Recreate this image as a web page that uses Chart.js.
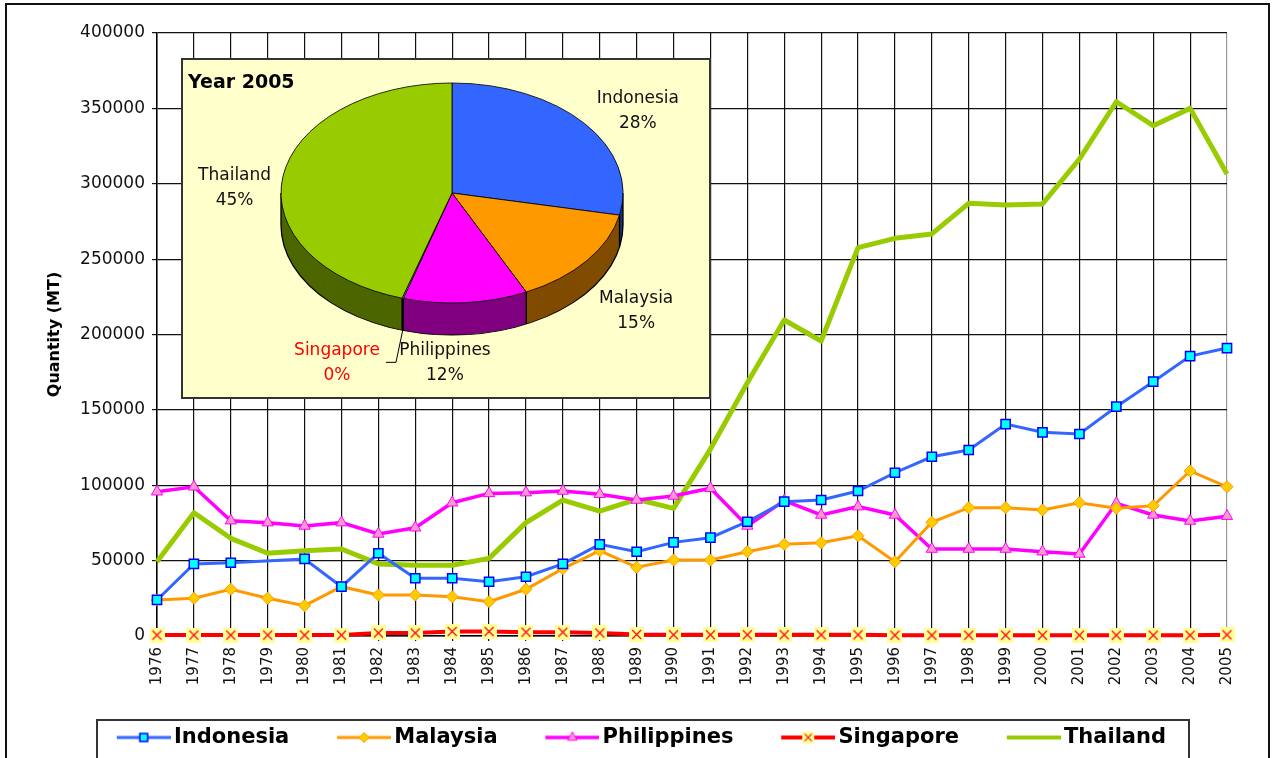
<!DOCTYPE html>
<html>
<head>
<meta charset="utf-8">
<script src="https://cdn.jsdelivr.net/npm/chart.js@4.4.1/dist/chart.umd.min.js"></script>
<style>
  html, body { margin: 0; padding: 0; background: #fff; }
  #wrap { position: relative; width: 1274px; height: 758px; overflow: hidden; }
  #frame { position: absolute; left: 5px; top: 3px; width: 1261px; height: 800px; border: 2px solid #111; }
  #legend-box { position: absolute; left: 96px; top: 719px; width: 1090px; height: 60px; border: 2px solid #333; }
  #main { position: absolute; left: 0; top: 0; }
  #pie-box { position: absolute; left: 181px; top: 58px; width: 526px; height: 337px; border: 2px solid #333; background: #FFFFCC; }
  #pie { position: absolute; left: 0; top: 0; }
</style>
</head>
<body>
<div id="wrap">
  <div id="frame"></div>
  <div id="legend-box"></div>
  <canvas id="main" width="1274" height="758"></canvas>
  <div id="pie-box"><canvas id="pie" width="526" height="337"></canvas></div>
</div>
<script>
const years = [1976, 1977, 1978, 1979, 1980, 1981, 1982, 1983, 1984, 1985,
  1986, 1987, 1988, 1989, 1990, 1991, 1992, 1993, 1994, 1995,
  1996, 1997, 1998, 1999, 2000, 2001, 2002, 2003, 2004, 2005];

const countries = ['Indonesia', 'Malaysia', 'Philippines', 'Singapore', 'Thailand'];

const indonesia = [23900, 47800, 48600, null, 51100, 32700, 54900, 38300, 38300, 36000,
  39300, 47800, 60800, 55900, 62100, 65200, 75800, 89100, 90200, 96200,
  108300, 118900, 123400, 140600, 135100, 134000, 152100, 168700, 185700, 191000];

const malaysia = [23900, 25000, 31000, 25000, 20100, 32700, 27200, 27200, 26100, 22800,
  31000, 44700, 56600, 45600, 50400, 50400, 55900, 60800, 61900, 66500,
  49300, 75400, 85100, 85100, 83600, 88400, 84700, 86400, 109500, 99000];

const philippines = [95700, 99000, 76500, 75200, 73000, 75200, 67700, 71800, 88400, 94600,
  95100, 96200, 94000, 90200, 92900, 98000, 73000, 89800, 80300, 85800,
  80300, 57700, 57700, 57700, 55900, 54400, 88000, 80300, 76300, 79500];

const singapore = [600, 600, 600, 600, 600, 600, 2000, 2000, 3000, 3000,
  2500, 2500, 2000, 1000, 800, 800, 800, 800, 800, 800,
  500, 500, 500, 500, 500, 500, 500, 500, 500, 800];

const thailand = [49300, 81800, 64800, 54900, 56600, 57700, 47800, 46900, 46900, 51500,
  75200, 90200, 82900, 90700, 84700, 124000, 168000, 209600, 195700, 257600,
  263800, 266700, 287000, 285900, 286600, 316400, 354400, 338500, 350000, 306500];

const yTicks = [0, 50000, 100000, 150000, 200000, 250000, 300000, 350000, 400000];

const pieYear = 2005;
const series = [indonesia, malaysia, philippines, singapore, thailand];
const pieValues = series.map(s => s[years.indexOf(pieYear)]);

Chart.defaults.font.family = "'DejaVu Sans', Verdana, sans-serif";
Chart.defaults.color = '#111';
Chart.defaults.animation = false;

// yellow square with a red cross, used for Singapore
function makeCrossMarker(size) {
    const c = document.createElement('canvas');
    c.width = size;
    c.height = size;
    const g = c.getContext('2d');
    g.fillStyle = '#FFFF99';
    g.fillRect(0, 0, size, size);
    g.strokeStyle = '#FF0000';
    g.lineWidth = 1.2;
    g.beginPath();
    g.moveTo(3, 3); g.lineTo(size - 3, size - 3);
    g.moveTo(size - 3, 3); g.lineTo(3, size - 3);
    g.stroke();
    return c;
}

const crossMarker = makeCrossMarker(15);

const datasets = [
    {
        label: 'Indonesia', data: indonesia, borderColor: '#3366FF', borderWidth: 3,
        pointStyle: 'rect', pointRadius: 6.5, pointBackgroundColor: '#00FFFF',
        pointBorderColor: '#0000FF', pointBorderWidth: 1.5, spanGaps: true
    },
    {
        label: 'Malaysia', data: malaysia, borderColor: '#FF9900', borderWidth: 3,
        pointStyle: 'rectRot', pointRadius: 6, pointBackgroundColor: '#FFCC00',
        pointBorderColor: '#FF9900', pointBorderWidth: 1
    },
    {
        label: 'Philippines', data: philippines, borderColor: '#FF00FF', borderWidth: 3.5,
        pointStyle: 'triangle', pointRadius: 6.5, pointBackgroundColor: '#FF99CC',
        pointBorderColor: '#FF00FF', pointBorderWidth: 1
    },
    {
        label: 'Singapore', data: singapore, borderColor: '#FF0000', borderWidth: 4,
        pointStyle: crossMarker, pointRadius: 7
    },
    {
        label: 'Thailand', data: thailand, borderColor: '#99CC00', borderWidth: 5,
        pointRadius: 0, borderJoinStyle: 'round'
    }
];
datasets.forEach(d => { d.clip = false; d.tension = 0; });

// legend picture: transparent margin on the left, then line + marker (54px)
const ICON_BOX = 84.5;
function makeLegendIcon(ds) {
    const c = document.createElement('canvas');
    c.width = ICON_BOX + 15;
    c.height = 18;
    const g = c.getContext('2d');
    const x0 = c.width - 54;
    g.strokeStyle = ds.borderColor;
    g.lineWidth = Math.min(ds.borderWidth, 4);
    g.beginPath();
    g.moveTo(x0, 9); g.lineTo(x0 + 54, 9);
    g.stroke();
    if (ds.pointRadius > 0) {
        if (typeof ds.pointStyle === 'string') {
            g.fillStyle = ds.pointBackgroundColor;
            g.strokeStyle = ds.pointBorderColor;
            g.lineWidth = ds.pointBorderWidth;
            Chart.helpers.drawPoint(g, {
                pointStyle: ds.pointStyle, radius: ds.pointRadius - 1,
                rotation: 0, borderWidth: ds.pointBorderWidth
            }, x0 + 27, 9);
        } else {
            g.drawImage(ds.pointStyle, x0 + 27 - 6, 9 - 6, 12, 12);
        }
    }
    return c;
}

const legendIcons = datasets.map(makeLegendIcon);

new Chart(document.getElementById('main'), {
    type: 'line',
    data: {
        labels: years.map(String),
        datasets: datasets
    },
    options: {
        responsive: false,
        animation: false,
        layout: {
            padding: { left: 0, right: 29, top: 33, bottom: 0 }
        },
        plugins: {
            tooltip: { enabled: false },
            legend: {
                position: 'bottom',
                labels: {
                    usePointStyle: true,
                    pointStyleWidth: ICON_BOX,
                    padding: 10,
                    color: '#000',
                    font: { size: 21, weight: 'bold' },
                    generateLabels: chart => chart.data.datasets.map((ds, i) => ({
                        text: ds.label,
                        pointStyle: legendIcons[i],
                        fillStyle: ds.borderColor,
                        strokeStyle: ds.borderColor,
                        lineWidth: 0,
                        hidden: false,
                        datasetIndex: i,
                        fontColor: '#000'
                    }))
                }
            }
        },
        scales: {
            x: {
                offset: false,
                grid: {
                    color: ctx => ctx.index === years.length - 1 ? '#999' : '#111',
                    lineWidth: 1.2,
                    tickLength: 5
                },
                border: { color: '#000', width: 1.5 },
                ticks: {
                    autoSkip: false,
                    minRotation: 90,
                    maxRotation: 90,
                    padding: 6,
                    color: '#111',
                    font: { size: 15 }
                },
                afterFit: s => { s.height = 81; }
            },
            y: {
                min: yTicks[0],
                max: yTicks[yTicks.length - 1],
                afterBuildTicks: s => { s.ticks = yTicks.map(v => ({ value: v })); },
                grid: { color: '#111', lineWidth: 1.2, tickLength: 5 },
                border: { color: '#000', width: 1.5 },
                ticks: {
                    padding: 7,
                    color: '#111',
                    font: { size: 17 },
                    callback: v => String(v)
                },
                title: {
                    display: true,
                    text: 'Quantity (MT)',
                    color: '#000',
                    font: { size: 16, weight: 'bold' },
                    padding: { top: 45, bottom: 0 }
                },
                afterFit: s => { s.width = 157; }
            },
            yRight: {
                type: 'linear',
                position: 'right',
                grid: { display: false },
                border: { display: false },
                ticks: { display: false },
                afterFit: s => { s.width = 18; }
            }
        }
    }
});

// tilted pie: squash the drawing vertically and add a side wall
const pie3d = {
    id: 'pie3d',
    beforeDatasetsDraw(chart, args, o) {
        const ctx = chart.ctx;
        const arcs = chart.getDatasetMeta(0).data;
        const cx = arcs[0].x, cy = arcs[0].y, r = arcs[0].outerRadius;
        const dz = o.depth / o.tilt;
        ctx.save();
        ctx.translate(cx, cy);
        ctx.scale(1, o.tilt);
        ctx.translate(-cx, -cy);
        for (let d = dz; d > 0; d -= 1 / o.tilt) {
            arcs.forEach((a, i) => {
                ctx.beginPath();
                ctx.moveTo(cx, cy + d);
                ctx.arc(cx, cy + d, r, a.startAngle, a.endAngle);
                ctx.closePath();
                ctx.fillStyle = o.sideColors[i];
                ctx.fill();
            });
        }
        ctx.strokeStyle = '#000';
        ctx.lineWidth = 1.3;
        ctx.beginPath();
        ctx.arc(cx, cy + dz, r, 0, Math.PI);
        ctx.moveTo(cx + r, cy); ctx.lineTo(cx + r, cy + dz);
        ctx.moveTo(cx - r, cy); ctx.lineTo(cx - r, cy + dz);
        arcs.forEach(a => {
            const t = ((a.startAngle % (2 * Math.PI)) + 2 * Math.PI) % (2 * Math.PI);
            if (t > 0 && t < Math.PI) {
                const px = cx + r * Math.cos(t), py = cy + r * Math.sin(t);
                ctx.moveTo(px, py);
                ctx.lineTo(px, py + dz);
            }
        });
        ctx.stroke();
    },
    afterDatasetsDraw(chart) {
        chart.ctx.restore();
    },
    afterDraw(chart, args, o) {
        const ctx = chart.ctx;
        const arcs = chart.getDatasetMeta(0).data;
        const values = chart.data.datasets[0].data;
        const total = values.reduce((s, v) => s + v, 0);
        const cx = arcs[0].x, cy = arcs[0].y, r = arcs[0].outerRadius;
        ctx.save();
        ctx.textBaseline = 'middle';
        ctx.textAlign = 'left';
        ctx.fillStyle = '#000';
        ctx.font = "bold 19px 'DejaVu Sans'";
        ctx.fillText(o.title, 5, 23);
        ctx.font = "17px 'DejaVu Sans'";
        ctx.textAlign = 'center';
        arcs.forEach((a, i) => {
            const mid = (a.startAngle + a.endAngle) / 2;
            const s = Math.sin(mid);
            const lx = cx + Math.cos(mid) * r * 1.38 + o.nudge[i][0];
            const ly = cy + s * r * o.tilt * 1.38 + (s > 0 ? o.depth : 0) + o.nudge[i][1];
            ctx.fillStyle = o.labelColors[i];
            ctx.fillText(chart.data.labels[i], lx, ly - 12);
            ctx.fillText(Math.round(values[i] / total * 100) + '%', lx, ly + 13);
            if (values[i] / total < 0.01) {
                ctx.strokeStyle = '#000';
                ctx.lineWidth = 1;
                ctx.beginPath();
                ctx.moveTo(cx + Math.cos(mid) * r, cy + s * r * o.tilt + o.depth);
                ctx.lineTo(lx + 59, ly);
                ctx.lineTo(lx + 49, ly);
                ctx.stroke();
            }
        });
        ctx.restore();
    }
};

new Chart(document.getElementById('pie'), {
    type: 'pie',
    data: {
        labels: countries,
        datasets: [{
            data: pieValues,
            radius: 171,
            clip: false,
            backgroundColor: ['#3366FF', '#FF9900', '#FF00FF', '#CCFFFF', '#99CC00'],
            borderColor: '#000',
            borderWidth: 1
        }]
    },
    options: {
        responsive: false,
        animation: false,
        layout: { padding: { left: 12, right: 0, top: 0, bottom: 71 } },
        plugins: {
            legend: { display: false },
            tooltip: { enabled: false },
            pie3d: {
                title: 'Year ' + pieYear,
                tilt: 110 / 171,
                depth: 32,
                sideColors: ['#1A3380', '#804C00', '#800080', '#668080', '#4D6600'],
                labelColors: ['#111', '#111', '#111', '#FF0000', '#111'],
                nudge: [[3, 14], [-2, -8], [-26, -14], [-47, -8], [16, 17]]
            }
        }
    },
    plugins: [pie3d]
});
</script>
</body>
</html>
